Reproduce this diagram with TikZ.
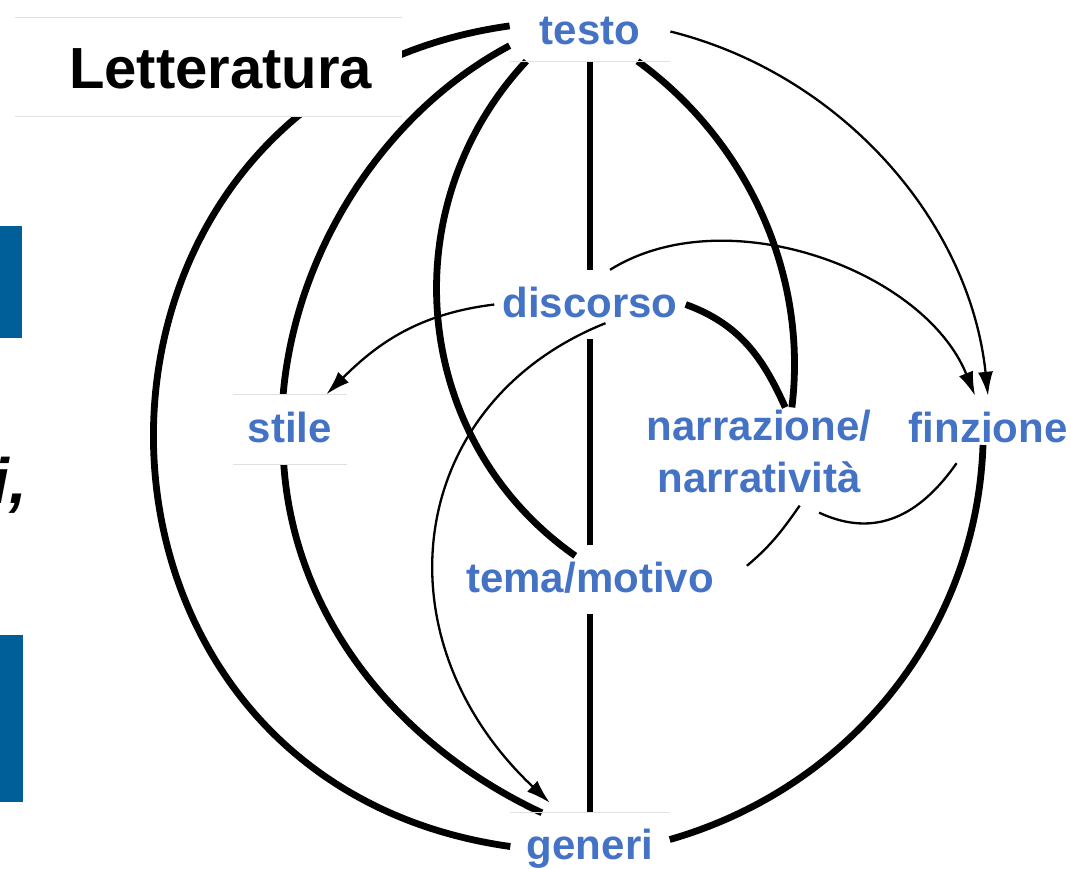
\documentclass[tikz,border=0pt]{standalone}
\usepackage{fontspec}
\setmainfont{Liberation Sans}
\usetikzlibrary{arrows.meta}
\definecolor{termblue}{RGB}{68,114,196}
\definecolor{barblue}{RGB}{0,95,152}
\tikzset{
  term/.style={font=\fontsize{42}{52}\selectfont\bfseries, text=termblue, inner sep=0pt},
  oneline/.style={term, anchor=base, text height=30pt, text depth=5pt},
  heavy/.style={line width=6.8pt},
  light/.style={line width=2.3pt},
  tip/.style={-{Latex[length=24pt,width=15pt]}},
  faint/.style={draw=black!12, line width=0.8pt}
}
\begin{document}
\begin{tikzpicture}[x=1pt,y=1pt]
\fill[white] (0,0) rectangle (1071,-868);
\useasboundingbox (0,0) rectangle (1071,-868);
\fill[barblue] (0,-226) rectangle (22,-338);
\fill[barblue] (0,-635) rectangle (23,-802);
\node[anchor=base east, inner sep=0pt, font=\fontsize{64}{64}\selectfont\bfseries\itshape] (frag) at (27,-503) {i,};

\node[oneline, inner xsep=30pt, inner ysep=12pt] (testo) at (590,-44) {testo};
\node[oneline, inner xsep=8pt, inner ysep=17pt] (discorso) at (590,-317) {discorso};
\node[oneline, inner xsep=15pt, inner ysep=17.5pt] (stile) at (290,-442) {stile};
\node[term, align=center, inner sep=2pt] (narr) at (759,-451) {narrazione/\\narratività};
\node[oneline, inner xsep=4pt, inner ysep=16pt] (finzione) at (988,-442) {finzione};
\node[oneline, inner xsep=33pt, inner ysep=17pt] (tema) at (590,-592) {tema/motivo};
\node[oneline, inner xsep=16.5pt, inner ysep=16pt] (generi) at (590,-859) {generi};

% asse
\draw[heavy] (testo) -- (discorso);
\draw[heavy] (discorso) -- (tema);
\draw[heavy] (tema) -- (generi);

% archi
\draw[heavy] (testo.176) to[out=188,in=172,looseness=1.5] (generi.west);
\draw[heavy] (testo.190) to[out=208,in=85,looseness=0.88] (stile.101);
\draw[heavy] (stile.260) to[out=274,in=155,looseness=0.92] (generi.145);
\draw[heavy] (testo.205) to[out=227,in=145,looseness=1.03] ([yshift=-11pt]tema.113);
\draw[heavy] (testo.-32) to[out=-36,in=83,looseness=0.91] (narr.53);
\draw[heavy] (discorso.east) to[out=-20,in=114] (narr.59);
\draw[heavy] ([xshift=-5pt,yshift=-3pt]finzione.base) to[out=-92,in=16,looseness=0.95] (generi.5);

% frecce
\draw[light,tip] (testo.east) to[out=-14,in=96,looseness=0.93] (finzione.north);
\draw[light,tip] (discorso.60) to[out=32,in=112,looseness=0.9] (finzione.111);
\draw[light,tip] (discorso.west) to[out=187,in=45] (stile.44);
\draw[light,tip] ([yshift=16pt]discorso.-66) .. controls +(-200,-80) and +(-175,165) .. ([yshift=10pt]generi.140);
\draw[light] ([yshift=-11pt]narr.-47) to[out=235,in=40] (tema.5);
\draw[light] ([yshift=-18pt]narr.-36) to[out=-25,in=235,looseness=1.1] (finzione.227);

% titolo
\node[anchor=base, fill=white, inner xsep=30pt, inner ysep=28pt, text height=42pt, text depth=0pt, font=\fontsize{58}{58}\selectfont\bfseries] (lett) at (220.5,-88) {Letteratura};
\draw[faint] ([xshift=-24pt]lett.north west) -- (lett.north east);
\draw[faint] ([xshift=-24pt]lett.south west) -- (lett.south east);
\draw[faint] (testo.south west) -- (testo.south east);
\draw[faint] (stile.north west) -- (stile.north east);
\draw[faint] (stile.south west) -- (stile.south east);
\draw[faint] (generi.north west) -- (generi.north east);
\end{tikzpicture}
\end{document}
